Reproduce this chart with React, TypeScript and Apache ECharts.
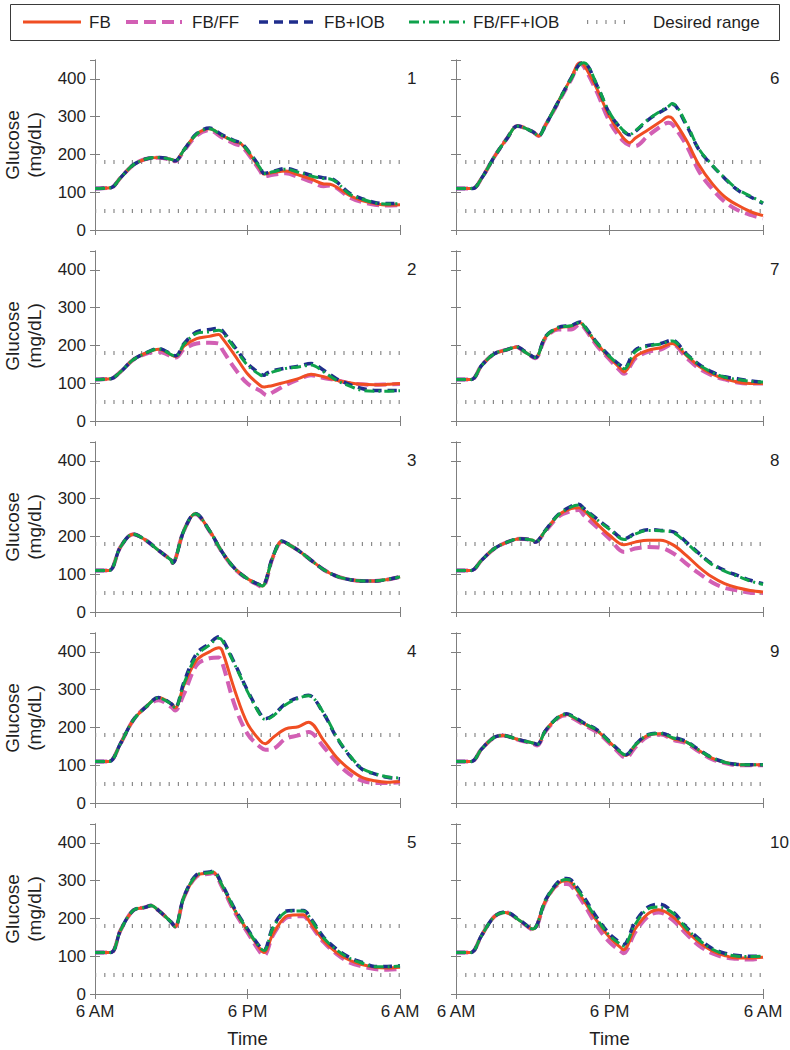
import React, { useEffect, useRef } from 'react';
import * as echarts from 'echarts';

const FONT = '"Liberation Sans", Arial, Helvetica, sans-serif';
const TEXT = '#1f1f1f';
const AXIS = '#7f7f7f';

const seriesNames = ['FB', 'FB/FF', 'FB+IOB', 'FB/FF+IOB'];
const rangeName = 'Desired range';
const rangeValues = [50, 180];
const xTickLabels = ['6 AM', '6 PM', '6 AM'];
const xMax = 24;
const xStep = 12;
const yMax = 450;
const yStep = 100;
const panelNumbers = [1, 2, 3, 4, 5, 6, 7, 8, 9, 10];

// Panel 1
const t1 = [0, 1.25, 2, 3, 4, 5, 6, 6.3, 7, 8, 9, 10, 11, 11.5, 12, 13, 13.3, 14, 15, 16, 17, 18, 18.5, 19, 20, 21, 22, 23, 24];
const fb1 = [110, 112, 138, 172, 188, 192, 187, 183, 212, 254, 268, 250, 234, 228, 208, 162, 148, 152, 156, 146, 135, 122, 121, 114, 92, 78, 70, 66, 67];
const ff1 = [110, 112, 138, 172, 188, 191, 186, 182, 210, 250, 264, 245, 228, 222, 204, 156, 142, 146, 150, 140, 128, 116, 118, 112, 87, 74, 67, 65, 66];
const iob1 = [110, 112, 138, 172, 188, 192, 187, 183, 212, 255, 270, 252, 236, 230, 212, 166, 150, 155, 163, 155, 145, 138, 137, 128, 98, 83, 73, 70, 70];
const ffiob1 = [110, 112, 138, 172, 188, 192, 187, 183, 212, 254, 268, 250, 235, 229, 211, 164, 149, 154, 161, 153, 143, 136, 135, 127, 96, 82, 72, 69, 70];

// Panel 2
const t2 = [0, 1.25, 2, 3, 4, 5, 6.35, 7, 8, 9, 9.75, 10, 11, 12, 13, 13.3, 13.5, 14, 15, 16, 17, 18, 19, 20, 21, 22, 23, 24];
const fb2 = [110, 112, 130, 162, 180, 190, 171, 198, 218, 224, 229, 220, 174, 125, 94, 90, 91, 94, 103, 112, 124, 117, 108, 101, 97, 96, 97, 99];
const ff2 = [110, 112, 130, 162, 178, 183, 168, 190, 205, 207, 205, 190, 139, 99, 80, 72, 68, 76, 95, 110, 121, 114, 108, 100, 97, 96, 97, 98];
const iob2 = [110, 112, 130, 162, 180, 192, 173, 205, 236, 242, 245, 240, 196, 152, 125, 121, 126, 133, 140, 145, 152, 134, 112, 97, 86, 81, 81, 81];
const ffiob2 = [110, 112, 130, 162, 180, 191, 172, 203, 232, 236, 240, 236, 192, 148, 122, 119, 123, 130, 139, 143, 148, 130, 108, 93, 81, 79, 79, 80];

// Panel 3
const t3 = [0, 1.1, 2, 3, 4, 5, 6, 6.1, 7, 7.9, 9, 10, 11, 12, 12.75, 13.15, 14, 14.7, 15, 16, 17, 18, 19, 20, 21, 22, 23, 24];
const fb3 = [110, 110, 172, 206, 190, 163, 137, 130, 216, 260, 216, 159, 115, 88, 75, 69, 146, 187, 183, 163, 137, 112, 95, 86, 82, 82, 86, 93];
const ff3 = [110, 110, 172, 206, 190, 163, 137, 130, 216, 259, 215, 158, 114, 87, 73, 66, 145, 186, 183, 163, 137, 112, 95, 86, 82, 82, 86, 93];
const iob3 = [110, 110, 172, 206, 190, 163, 137, 130, 216, 261, 216, 159, 115, 88, 75, 70, 147, 188, 184, 163, 137, 112, 95, 86, 82, 82, 86, 93];
const ffiob3 = [110, 110, 172, 206, 190, 163, 137, 130, 216, 260, 216, 159, 115, 88, 75, 69, 146, 187, 183, 163, 137, 112, 95, 86, 82, 82, 86, 93];

// Panel 4
const t4 = [0, 1.1, 2, 3, 4, 5, 6, 6.3, 7, 8, 9, 9.75, 10, 11, 12, 13, 13.4, 14, 15, 16, 16.8, 18, 19, 20, 21, 22, 23, 24];
const fb4 = [110, 110, 157, 219, 254, 279, 263, 252, 312, 378, 400, 411, 404, 298, 210, 165, 157, 173, 196, 202, 214, 165, 121, 90, 68, 59, 55, 57];
const ff4 = [110, 110, 157, 219, 254, 272, 254, 245, 289, 365, 383, 385, 373, 258, 183, 148, 141, 143, 170, 179, 188, 148, 108, 77, 59, 53, 53, 55];
const iob4 = [110, 110, 157, 219, 254, 279, 263, 252, 320, 396, 422, 440, 435, 369, 298, 236, 223, 232, 263, 279, 285, 236, 174, 126, 90, 77, 68, 64];
const ffiob4 = [110, 110, 157, 219, 254, 278, 262, 252, 316, 390, 418, 436, 431, 366, 295, 233, 221, 230, 260, 277, 284, 238, 176, 128, 92, 78, 69, 66];

// Panel 5
const t5 = [0, 1.25, 2, 3, 4, 4.4, 5, 6, 6.3, 7, 8, 9, 9.3, 10, 11, 12, 13, 13.3, 14, 15, 15.6, 16.4, 17, 18, 19, 20, 21, 22, 23, 24];
const fb5 = [110, 110, 168, 221, 230, 234, 221, 190, 178, 256, 313, 320, 322, 287, 221, 168, 119, 110, 159, 205, 209, 210, 185, 141, 110, 90, 78, 71, 69, 71];
const ff5 = [110, 110, 168, 221, 230, 234, 221, 190, 178, 256, 311, 318, 320, 283, 216, 163, 110, 102, 155, 201, 205, 206, 181, 137, 106, 84, 73, 66, 64, 66];
const iob5 = [110, 110, 168, 221, 230, 234, 221, 190, 178, 258, 316, 323, 325, 290, 225, 172, 124, 117, 177, 219, 221, 221, 199, 150, 119, 97, 84, 73, 73, 75];
const ffiob5 = [110, 110, 168, 221, 230, 234, 221, 190, 178, 257, 314, 321, 323, 288, 223, 170, 122, 115, 174, 217, 220, 220, 197, 148, 117, 95, 82, 72, 72, 74];

// Panel 6
const t6 = [0, 1.3, 2, 3, 4, 4.8, 6, 6.45, 7, 8, 9, 9.7, 10, 11, 12, 13, 13.6, 14, 15, 16, 16.6, 16.9, 18, 19, 20, 21, 22, 23, 24];
const fb6 = [110, 110, 137, 194, 243, 275, 260, 249, 278, 340, 402, 443, 437, 375, 300, 247, 231, 243, 265, 287, 300, 296, 238, 172, 124, 88, 66, 49, 38];
const ff6 = [110, 110, 137, 194, 243, 275, 260, 249, 278, 338, 398, 440, 432, 366, 287, 238, 224, 222, 249, 274, 284, 280, 225, 155, 110, 75, 53, 40, 31];
const iob6 = [110, 110, 137, 194, 243, 275, 260, 249, 278, 340, 402, 440, 442, 384, 309, 265, 252, 260, 291, 313, 325, 333, 278, 212, 172, 137, 106, 88, 70];
const ffiob6 = [110, 110, 137, 194, 243, 275, 260, 249, 278, 340, 400, 438, 443, 386, 311, 266, 253, 262, 292, 315, 327, 335, 282, 214, 173, 138, 108, 90, 72];

// Panel 7
const t7 = [0, 1.2, 2, 3, 4, 4.75, 5, 5.6, 6.2, 7, 8, 9, 9.7, 10, 11, 12, 13, 13.15, 14, 15, 16, 16.9, 18, 19, 20, 21, 22, 23, 24];
const fb7 = [110, 110, 147, 178, 189, 196, 192, 178, 168, 222, 246, 251, 260, 251, 205, 168, 134, 130, 170, 187, 194, 205, 174, 145, 125, 112, 103, 99, 99];
const ff7 = [110, 110, 147, 178, 189, 196, 192, 178, 166, 220, 242, 242, 256, 248, 200, 163, 127, 125, 165, 183, 189, 203, 168, 139, 121, 110, 102, 99, 99];
const iob7 = [110, 110, 147, 178, 189, 197, 193, 179, 168, 224, 248, 253, 262, 253, 208, 172, 143, 140, 187, 200, 205, 214, 178, 150, 130, 117, 112, 106, 103];
const ffiob7 = [110, 110, 147, 178, 189, 196, 192, 178, 168, 223, 247, 252, 261, 252, 207, 171, 141, 138, 183, 198, 204, 212, 177, 149, 129, 116, 110, 105, 103];

// Panel 8
const t8 = [0, 1.2, 2, 3, 4, 5, 6, 6.2, 7, 8, 9, 9.6, 10, 11, 12, 13.15, 14, 15, 16, 17, 18, 19, 20, 21, 22, 23, 24];
const fb8 = [110, 110, 137, 168, 185, 194, 190, 185, 216, 256, 274, 276, 269, 234, 203, 178, 185, 190, 190, 177, 150, 119, 93, 75, 64, 57, 53];
const ff8 = [110, 110, 137, 168, 185, 194, 190, 185, 214, 252, 267, 270, 256, 225, 194, 159, 168, 172, 170, 155, 128, 102, 79, 64, 57, 51, 50];
const iob8 = [110, 110, 137, 168, 185, 194, 190, 185, 217, 258, 280, 285, 274, 247, 221, 194, 208, 218, 216, 212, 185, 155, 128, 110, 97, 84, 75];
const ffiob8 = [110, 110, 137, 168, 185, 194, 190, 185, 216, 257, 278, 283, 272, 245, 219, 192, 206, 216, 215, 210, 183, 153, 126, 108, 95, 82, 73];

// Panel 9
const t9 = [0, 1.2, 2, 3, 3.7, 4, 5, 6, 6.35, 7, 8, 8.65, 9, 10, 11, 12, 13, 13.3, 14, 15, 16, 17, 18, 19, 20, 21, 22, 23, 24];
const fb9 = [110, 110, 143, 174, 179, 177, 167, 159, 155, 192, 227, 234, 230, 210, 192, 161, 130, 126, 152, 179, 183, 170, 161, 139, 119, 108, 102, 101, 101];
const ff9 = [110, 110, 143, 174, 179, 177, 166, 157, 152, 190, 225, 232, 227, 207, 188, 158, 124, 120, 147, 176, 181, 167, 158, 136, 116, 106, 100, 100, 100];
const iob9 = [110, 110, 143, 174, 179, 177, 167, 159, 155, 192, 228, 236, 232, 212, 194, 163, 132, 128, 154, 181, 185, 174, 163, 141, 120, 108, 102, 101, 101];
const ffiob9 = [110, 110, 143, 174, 179, 177, 167, 159, 155, 192, 227, 235, 231, 211, 193, 162, 131, 127, 153, 180, 184, 172, 162, 140, 120, 108, 102, 101, 101];

// Panel 10
const t10 = [0, 1.15, 2, 3, 3.85, 5, 6, 7, 8, 8.65, 9, 10, 11, 12, 13, 13.1, 14, 15, 15.85, 17, 18, 19, 20, 21, 22, 23, 24];
const fb10 = [110, 110, 155, 205, 216, 194, 172, 247, 293, 300, 296, 247, 194, 150, 119, 117, 172, 212, 223, 203, 168, 137, 115, 102, 95, 95, 97];
const ff10 = [110, 110, 155, 205, 216, 194, 170, 245, 289, 291, 287, 238, 181, 137, 110, 108, 163, 205, 216, 194, 159, 128, 108, 97, 93, 91, 95];
const iob10 = [110, 110, 155, 205, 217, 195, 172, 249, 297, 306, 302, 256, 203, 159, 132, 131, 190, 230, 238, 216, 177, 146, 121, 108, 102, 100, 100];
const ffiob10 = [110, 110, 155, 205, 216, 194, 172, 248, 295, 303, 299, 252, 199, 155, 128, 127, 184, 225, 230, 213, 174, 143, 119, 106, 100, 99, 100];

const panelTimes = [t1, t2, t3, t4, t5, t6, t7, t8, t9, t10];
const panelFB = [fb1, fb2, fb3, fb4, fb5, fb6, fb7, fb8, fb9, fb10];
const panelFF = [ff1, ff2, ff3, ff4, ff5, ff6, ff7, ff8, ff9, ff10];
const panelIOB = [iob1, iob2, iob3, iob4, iob5, iob6, iob7, iob8, iob9, iob10];
const panelFFIOB = [ffiob1, ffiob2, ffiob3, ffiob4, ffiob5, ffiob6, ffiob7, ffiob8, ffiob9, ffiob10];

// Styles (not data)
const styles = [
  { color: '#F04E23', width: 3, type: 'solid' as any, z: 3 },
  { color: '#D25FB4', width: 4, type: [12, 6] as any, z: 2 },
  { color: '#1F2D8C', width: 3.5, type: [9, 6] as any, z: 4 },
  { color: '#0FA24C', width: 3, type: [10, 4, 2, 4] as any, z: 5 },
];
const rangeStyle = { color: '#8a8a8a', width: 4, type: [1.2, 8] as any };

const colLeft = [94, 456];
const colWidth = [306, 307];
const rowTop = [60, 251, 442, 633, 824];
const panelHeight = 170;

function buildOption() {
  const grid: any[] = [];
  const xAxis: any[] = [];
  const yAxis: any[] = [];
  const series: any[] = [];
  const graphic: any[] = [];

  panelNumbers.forEach((num, g) => {
    const col = g < 5 ? 0 : 1;
    const row = g % 5;
    const left = colLeft[col];
    const top = rowTop[row];
    grid.push({ left, top, width: colWidth[col], height: panelHeight, containLabel: false });

    const isBottom = row === 4;
    const isLeft = col === 0;
    const tickStyle = { show: true, inside: true, length: 5, lineStyle: { color: AXIS, width: 1 } };
    const lineStyle = { show: true, lineStyle: { color: AXIS, width: 1 } };

    xAxis.push({
      type: 'value', gridIndex: g, position: 'bottom', min: 0, max: xMax, interval: xStep,
      axisLine: lineStyle, axisTick: tickStyle, splitLine: { show: false },
      axisLabel: {
        show: isBottom, fontSize: 17, color: TEXT, fontFamily: FONT, margin: 9,
        formatter: (v: number) => xTickLabels[Math.round(v / xStep)] ?? '',
      },
      name: isBottom ? 'Time' : '', nameLocation: 'middle', nameGap: 35,
      nameTextStyle: { fontSize: 18.5, color: TEXT, fontFamily: FONT },
    });
    xAxis.push({
      type: 'value', gridIndex: g, position: 'top', min: 0, max: xMax, interval: xStep,
      axisLine: lineStyle, axisTick: tickStyle, splitLine: { show: false }, axisLabel: { show: false },
    });
    yAxis.push({
      type: 'value', gridIndex: g, position: 'left', min: 0, max: yMax, interval: yStep,
      axisLine: lineStyle, axisTick: tickStyle, splitLine: { show: false },
      axisLabel: {
        show: isLeft, fontSize: 17, color: TEXT, fontFamily: FONT, margin: 9, showMaxLabel: false,
        formatter: (v: number) => (v > 400 ? '' : String(v)),
      },
      name: isLeft ? 'Glucose\n(mg/dL)' : '', nameLocation: 'middle', nameGap: 50, nameRotate: 90,
      nameTextStyle: { fontSize: 19, lineHeight: 22, color: TEXT, fontFamily: FONT },
    });
    yAxis.push({
      type: 'value', gridIndex: g, position: 'right', min: 0, max: yMax, interval: yStep,
      axisLine: lineStyle, axisTick: tickStyle, splitLine: { show: false }, axisLabel: { show: false },
    });

    const xi = 2 * g;
    const yi = 2 * g;
    rangeValues.forEach((rv) => {
      series.push({
        type: 'line', name: rangeName, xAxisIndex: xi, yAxisIndex: yi, symbol: 'none', silent: true,
        data: [[0, rv], [xMax, rv]],
        lineStyle: { color: rangeStyle.color, width: rangeStyle.width, type: rangeStyle.type, cap: 'butt' },
        z: 1,
      });
    });
    const t = panelTimes[g];
    const sets = [panelFB[g], panelFF[g], panelIOB[g], panelFFIOB[g]];
    sets.forEach((vals, k) => {
      const st = styles[k];
      series.push({
        type: 'line', name: seriesNames[k], xAxisIndex: xi, yAxisIndex: yi, symbol: 'none',
        smooth: 0.35, silent: true,
        data: t.map((x, i) => [x, vals[i]]),
        lineStyle: { color: st.color, width: st.width, type: st.type, cap: 'butt', join: 'round' },
        z: st.z,
      });
    });

    graphic.push({
      type: 'text', left: left + colWidth[col] + 7, top: top + 10,
      style: { text: String(num), fontSize: 17, fill: TEXT, fontFamily: FONT },
    });
  });

  // Legend box
  const legY = 22;
  graphic.push({
    type: 'rect', shape: { x: 10.5, y: 4.5, width: 769, height: 36 },
    style: { fill: '#fff', stroke: '#3a3a3a', lineWidth: 1 }, z: 10,
  });
  const legItems = [
    { x1: 23, x2: 81, tx: 89, style: styles[0], name: seriesNames[0] },
    { x1: 126, x2: 182, tx: 192, style: styles[1], name: seriesNames[1] },
    { x1: 259, x2: 318, tx: 324, style: styles[2], name: seriesNames[2] },
    { x1: 409, x2: 466, tx: 473, style: styles[3], name: seriesNames[3] },
    { x1: 587, x2: 633, tx: 653, style: rangeStyle, name: rangeName },
  ];
  legItems.forEach((it) => {
    const dash = Array.isArray(it.style.type) ? it.style.type : null;
    graphic.push({
      type: 'line', shape: { x1: it.x1, y1: legY, x2: it.x2, y2: legY }, z: 11,
      style: { stroke: it.style.color, lineWidth: it.style.width, lineDash: dash, lineCap: 'butt' },
    });
    graphic.push({
      type: 'text', x: it.tx, y: legY, z: 11,
      style: { text: it.name, fontSize: 17, fill: TEXT, fontFamily: FONT, verticalAlign: 'middle', align: 'left' },
    });
  });

  return { animation: false, backgroundColor: '#fff', grid, xAxis, yAxis, series, graphic };
}

export default function App() {
  const ref = useRef<HTMLDivElement>(null);
  useEffect(() => {
    document.body.style.margin = '0';
    if (!ref.current) return;
    const chart = echarts.init(ref.current, undefined, { renderer: 'svg' });
    chart.setOption(buildOption() as any);
    return () => chart.dispose();
  }, []);
  return <div ref={ref} style={{ width: 790, height: 1050 }} />;
}
